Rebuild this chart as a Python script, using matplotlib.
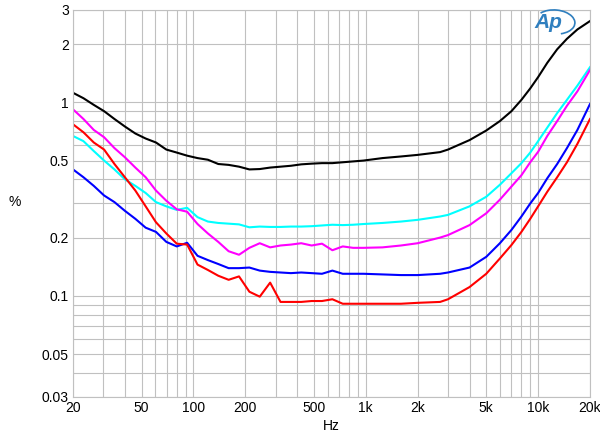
import numpy as np
import matplotlib
matplotlib.use('Agg')
import matplotlib.pyplot as plt
from matplotlib.patches import Arc
from matplotlib.ticker import FixedLocator, NullFormatter

matplotlib.rcParams.update({'font.family': ['Liberation Sans', 'DejaVu Sans'], 'font.size': 9})

# frequencies (Hz): 1/5 octave up to 1k, then coarser read points
freq = [20, 23, 26.4, 30.3, 34.8, 40, 46, 52.8, 60.6, 69.6, 80, 91.9, 105.6, 121.3, 139.3,
        160, 183.8, 211.1, 242.5, 278.6, 320, 367.6, 422, 485, 557, 640, 735, 844, 970,
        1250, 1600, 2000, 2700, 3000, 4000, 5000, 6000, 7000, 8000, 9000, 10000,
        11300, 12900, 14700, 16900, 20000]

black = [1.12, 1.05, 0.97, 0.90, 0.82, 0.75, 0.69, 0.65, 0.62, 0.57, 0.55, 0.53, 0.515, 0.505, 0.48,
         0.475, 0.465, 0.45, 0.452, 0.46, 0.465, 0.47, 0.478, 0.482, 0.485, 0.485, 0.49, 0.495, 0.50,
         0.515, 0.525, 0.535, 0.553, 0.57, 0.638, 0.715, 0.80, 0.90, 1.03, 1.18, 1.35,
         1.60, 1.88, 2.13, 2.38, 2.63]
cyan = [0.67, 0.63, 0.56, 0.50, 0.45, 0.40, 0.37, 0.34, 0.305, 0.29, 0.278, 0.285, 0.255, 0.242, 0.238,
        0.236, 0.234, 0.226, 0.228, 0.227, 0.227, 0.228, 0.228, 0.229, 0.231, 0.233, 0.232, 0.233, 0.235,
        0.238, 0.242, 0.247, 0.257, 0.262, 0.29, 0.325, 0.375, 0.43, 0.485, 0.55, 0.63,
        0.74, 0.88, 1.03, 1.22, 1.52]
magenta = [0.92, 0.82, 0.72, 0.66, 0.58, 0.52, 0.46, 0.41, 0.35, 0.31, 0.28, 0.272, 0.235, 0.21, 0.19,
           0.17, 0.163, 0.177, 0.187, 0.178, 0.182, 0.184, 0.187, 0.182, 0.186, 0.172, 0.18, 0.177, 0.177,
           0.178, 0.182, 0.187, 0.20, 0.206, 0.232, 0.267, 0.314, 0.367, 0.42, 0.49, 0.555,
           0.67, 0.80, 0.96, 1.14, 1.47]
blue = [0.45, 0.41, 0.37, 0.33, 0.305, 0.275, 0.25, 0.225, 0.214, 0.19, 0.18, 0.188, 0.161, 0.153, 0.146,
        0.139, 0.139, 0.14, 0.135, 0.133, 0.132, 0.131, 0.132, 0.131, 0.130, 0.135, 0.130, 0.130, 0.130,
        0.129, 0.128, 0.128, 0.130, 0.132, 0.14, 0.159, 0.187, 0.219, 0.257, 0.30, 0.34,
        0.405, 0.48, 0.58, 0.72, 0.98]
red = [0.77, 0.70, 0.62, 0.57, 0.48, 0.41, 0.35, 0.29, 0.24, 0.21, 0.186, 0.184, 0.145, 0.136, 0.127,
       0.121, 0.126, 0.105, 0.099, 0.117, 0.093, 0.093, 0.093, 0.094, 0.094, 0.096, 0.091, 0.091, 0.091,
       0.091, 0.091, 0.092, 0.093, 0.096, 0.111, 0.130, 0.156, 0.183, 0.214, 0.25, 0.29,
       0.345, 0.41, 0.49, 0.61, 0.82]

xticks = [20, 50, 100, 200, 500, 1000, 2000, 5000, 10000, 20000]
xlabels = ['20', '50', '100', '200', '500', '1k', '2k', '5k', '10k', '20k']
yticks = [0.03, 0.05, 0.1, 0.2, 0.5, 1, 2, 3]
ylabels = ['0.03', '0.05', '0.1', '0.2', '0.5', '1', '2', '3']

fig = plt.figure(figsize=(6, 4.4), dpi=100)
ax = fig.add_axes([73/600, 1-397/440, (590-73)/600, (397-10)/440])
ax.set_xscale('log')
ax.set_yscale('log')
ax.set_xlim(20, 20000)
ax.set_ylim(0.03, 3)

for d, c in [(black, 'black'), (cyan, '#00ffff'), (magenta, '#ff00ff'), (blue, '#0000ff'), (red, '#ff0000')]:
    ax.plot(freq, d, color=c, lw=1.5)

xminor = [m * 10**e for e in range(1, 5) for m in range(2, 10) if 20 <= m * 10**e <= 20000]
yminor = [m * 10.0**e for e in (-2, -1, 0) for m in range(1, 10) if 0.03 <= m * 10.0**e <= 3]
ax.xaxis.set_major_locator(FixedLocator(xticks))
ax.set_xticklabels(xlabels)
ax.xaxis.set_minor_locator(FixedLocator(xminor))
ax.xaxis.set_minor_formatter(NullFormatter())
ax.yaxis.set_major_locator(FixedLocator(yticks))
ax.set_yticklabels(ylabels)
ax.yaxis.set_minor_locator(FixedLocator(yminor))
ax.yaxis.set_minor_formatter(NullFormatter())
ax.tick_params(which='both', length=0, labelsize=10)
ax.tick_params(axis='x', pad=3)
ax.tick_params(axis='y', pad=3)
ax.grid(True, which='both', color='#c0c0c0', lw=0.8)
ax.set_axisbelow(True)
for s in ax.spines.values():
    s.set_color('#c0c0c0')
    s.set_linewidth(0.8)

ax.set_xlabel('Hz', fontsize=10, labelpad=3)
fig.text(15/600, 1-202/440, '%', fontsize=10, ha='center', va='center')

# Ap logo
fig.text(548/600, 1-22/440, 'Ap', fontsize=15, fontstyle='italic', fontweight='bold',
         color='#2f7fbf', ha='center', va='center')
fig.patches.append(Arc((555/600, 1-22/440), 40/600, 24/440, angle=-10, theta1=-60, theta2=150,
                       color='#2f7fbf', lw=1.2, transform=fig.transFigure, figure=fig))

plt.savefig('out.png', dpi=100)
